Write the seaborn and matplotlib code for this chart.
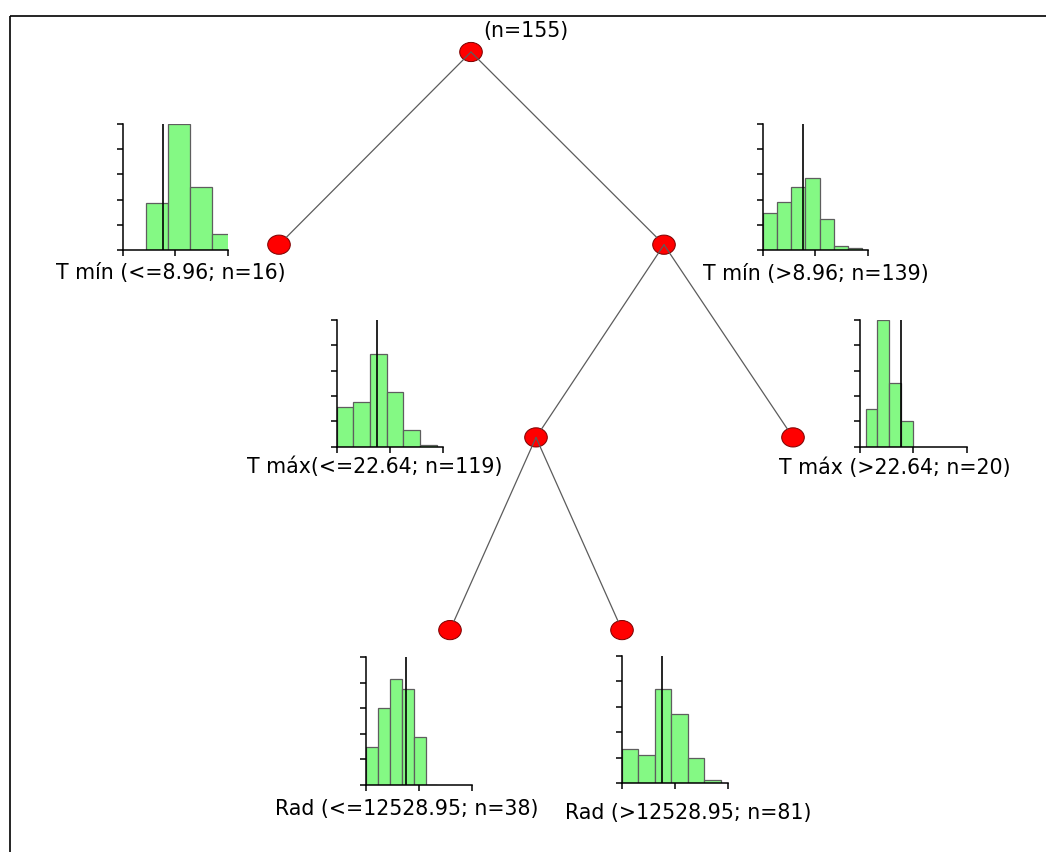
import numpy as np
import pandas as pd
import matplotlib
matplotlib.use("Agg")
import matplotlib.pyplot as plt
from matplotlib.patches import Ellipse
import seaborn as sns

# ---------------- data ----------------
root_label = "(n=155)"
node_parents = [None, 0, 0, 2, 2, 3, 3]
node_depths = [0, 1, 1, 2, 2, 3, 3]
hist_labels = [
    "T mín (<=8.96; n=16)",
    "T mín (>8.96; n=139)",
    "T máx(<=22.64; n=119)",
    "T máx (>22.64; n=20)",
    "Rad (<=12528.95; n=38)",
    "Rad (>12528.95; n=81)",
]
hist_starts = [2.2, 0.0, 0.0, 0.53, 0.0, 0.0]
hist_widths = [2.1, 1.35, 1.57, 1.1, 1.12, 1.56]
hist_counts = [
    [3, 8, 4, 1],
    [20, 26, 34, 39, 17, 2, 1],
    [19, 21, 44, 26, 8, 1],
    [3, 10, 5, 2],
    [4, 8, 11, 10, 5, 0],
    [11, 9, 30, 22, 8, 1],
]
hist_ymax = [8, 68.4, 60, 10, 13.3, 40.5]
hist_mean = [3.8, 3.86, 3.84, 3.81, 3.76, 3.77]

# ---------------- layout (pixels) ----------------
W, H = 1046, 852
node_x = [471, 279, 664, 536, 793, 450, 622]
level_y0, level_dy = 52, 192.7
node_rx, node_ry = 11.3, 9.6
hist_boxes = [  # left, top, right, bottom
    (122.7, 124, 228, 250),
    (762.7, 124, 868, 250),
    (336.7, 320, 442.7, 446.7),
    (860, 320, 966.7, 446.7),
    (366, 657.3, 472.3, 785),
    (621.7, 656, 727.7, 783.3),
]
label_pos = [(56, 279), (703, 280), (247, 473), (779, 474), (275, 815), (565, 819)]
root_label_pos = (483.5, 37)

sns.set_theme(style="ticks")
plt.rcParams["font.family"] = ["DejaVu Sans"]
FS = 14.8
GREEN = "#84F984"

fig = plt.figure(figsize=(W / 100, H / 100), dpi=100)
ax = fig.add_axes([0, 0, 1, 1])
ax.set_xlim(0, W)
ax.set_ylim(H, 0)
ax.axis("off")

# frame
ax.plot([9.5, W], [16, 16], color="black", lw=1.2, solid_capstyle="butt")
ax.plot([9.5, 9.5], [16, H], color="black", lw=1.2, solid_capstyle="butt")

node_y = [level_y0 + level_dy * d for d in node_depths]

# edges
for i, p in enumerate(node_parents):
    if p is None:
        continue
    x0, y0 = node_x[p], node_y[p]
    x1, y1 = node_x[i], node_y[i]
    dx, dy = x1 - x0, y1 - y0
    t = 1.0 / np.sqrt((dx / node_rx) ** 2 + (dy / node_ry) ** 2)
    ax.plot([x0, x1 - t * dx], [y0, y1 - t * dy], color="#5c5c5c", lw=0.9, zorder=3)

# nodes
for x, y in zip(node_x, node_y):
    ax.add_patch(Ellipse((x, y), 2 * node_rx, 2 * node_ry, facecolor="#ff0000",
                         edgecolor="#7a0000", lw=0.7, zorder=2))

ax.text(*root_label_pos, root_label, fontsize=FS, ha="left", va="baseline", color="black")

for k in range(6):
    l, t, r, b = hist_boxes[k]
    hax = fig.add_axes([l / W, 1 - b / H, (r - l) / W, (b - t) / H])
    counts = hist_counts[k]
    n = len(counts)
    w = hist_widths[k]
    start = hist_starts[k]
    centers = start + w * (np.arange(n) + 0.5)
    df = pd.DataFrame({"v": centers, "w": np.asarray(counts, dtype=float)})
    sns.histplot(data=df, x="v", weights="w", binwidth=w,
                 binrange=(start, start + w * n), ax=hax, color=GREEN,
                 edgecolor="#5e5e5e", linewidth=0.9, alpha=1.0)
    hax.set_xlim(0, 10)
    hax.set_ylim(0, hist_ymax[k])
    hax.set_xticks([0, 5, 10])
    hax.set_yticks(np.linspace(0, hist_ymax[k], 6))
    hax.set_xlabel("")
    hax.set_ylabel("")
    hax.tick_params(direction="out", length=4.5, width=1.1, color="black",
                    labelbottom=False, labelleft=False)
    for s in ["top", "right"]:
        hax.spines[s].set_visible(False)
    for s in ["left", "bottom"]:
        hax.spines[s].set_linewidth(1.1)
        hax.spines[s].set_color("black")
    hax.patch.set_alpha(0)
    hax.axvline(hist_mean[k], color="black", lw=1.2, zorder=5)
    ax.text(*label_pos[k], hist_labels[k], fontsize=FS, ha="left", va="baseline",
            color="black")

fig.savefig("out.png", dpi=100)
